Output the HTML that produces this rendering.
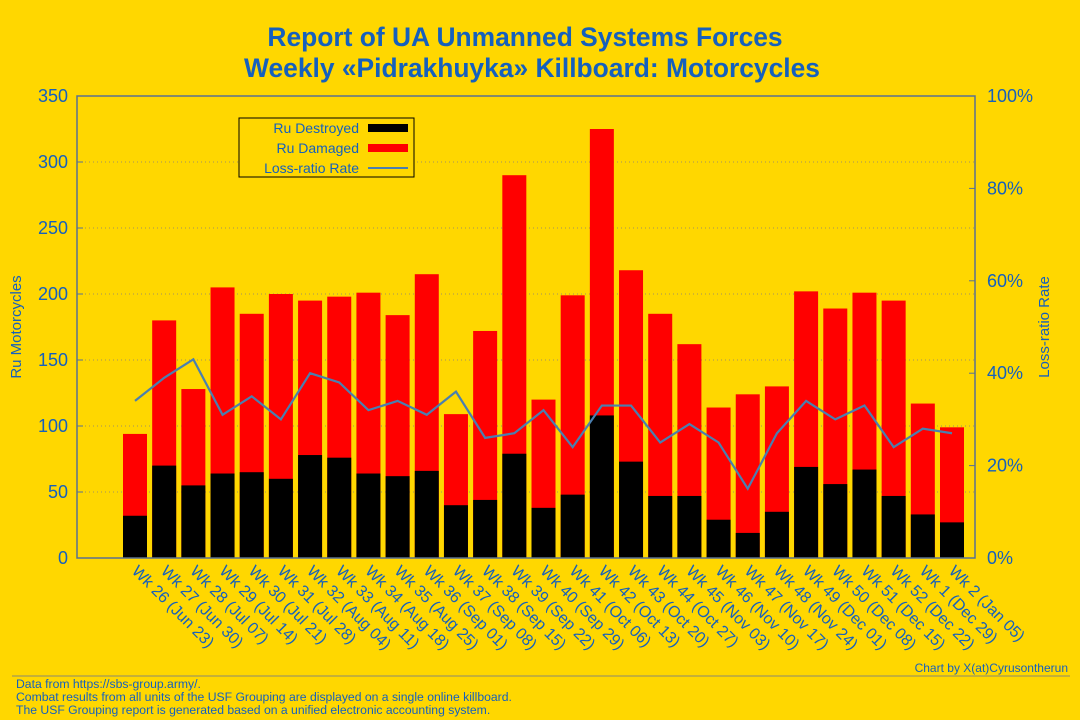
<!DOCTYPE html>
<html><head><meta charset="utf-8"><style>
body{margin:0;background:#FFD700;}
svg{display:block;font-family:"Liberation Sans",sans-serif;}
</style></head><body>
<svg id="chart" width="1080" height="720">
<rect x="0" y="0" width="1080" height="720" fill="#FFD700"/>
<text x="525" y="46" text-anchor="middle" font-size="26.4" font-weight="bold" fill="#1560BD">Report of UA Unmanned Systems Forces</text>
<text x="532" y="77" text-anchor="middle" font-size="26.4" font-weight="bold" fill="#1560BD">Weekly «Pidrakhuyka» Killboard: Motorcycles</text>
<g id="grid"></g><g id="bars"></g><g id="line"></g><g id="axes"></g>
<text transform="translate(21,327) rotate(-90)" text-anchor="middle" font-size="15" fill="#1560BD">Ru Motorcycles</text>
<text transform="translate(1049,327) rotate(-90)" text-anchor="middle" font-size="15" fill="#1560BD">Loss-ratio Rate</text>
<g>
<rect x="239" y="118" width="175" height="59" fill="#FFD700" stroke="#000" stroke-width="1"/>
<text x="359" y="133" text-anchor="end" font-size="14" fill="#1560BD">Ru Destroyed</text>
<rect x="368" y="124" width="40" height="8" fill="#000"/>
<text x="359" y="153" text-anchor="end" font-size="14" fill="#1560BD">Ru Damaged</text>
<rect x="368" y="144" width="40" height="8" fill="#FF0000"/>
<text x="359" y="173" text-anchor="end" font-size="14" fill="#1560BD">Loss-ratio Rate</text>
<line x1="368" y1="168" x2="408" y2="168" stroke="#4a7fb0" stroke-width="2"/>
</g>
<text x="1068" y="672" text-anchor="end" font-size="12" fill="#1560BD">Chart by X(at)Cyrusontherun</text>
<line x1="12" y1="676" x2="1070" y2="676" stroke="#8a8a70" stroke-width="1"/>
<text x="16" y="688" font-size="12.2" fill="#1560BD">Data from https://sbs-group.army/.</text>
<text x="16" y="701" font-size="12.2" fill="#1560BD">Combat results from all units of the USF Grouping are displayed on a single online killboard.</text>
<text x="16" y="714" font-size="12.2" fill="#1560BD">The USF Grouping report is generated based on a unified electronic accounting system.</text>
</svg>
<script>
const categories=["Wk 26 (Jun 23)","Wk 27 (Jun 30)","Wk 28 (Jul 07)","Wk 29 (Jul 14)","Wk 30 (Jul 21)","Wk 31 (Jul 28)","Wk 32 (Aug 04)","Wk 33 (Aug 11)","Wk 34 (Aug 18)","Wk 35 (Aug 25)","Wk 36 (Sep 01)","Wk 37 (Sep 08)","Wk 38 (Sep 15)","Wk 39 (Sep 22)","Wk 40 (Sep 29)","Wk 41 (Oct 06)","Wk 42 (Oct 13)","Wk 43 (Oct 20)","Wk 44 (Oct 27)","Wk 45 (Nov 03)","Wk 46 (Nov 10)","Wk 47 (Nov 17)","Wk 48 (Nov 24)","Wk 49 (Dec 01)","Wk 50 (Dec 08)","Wk 51 (Dec 15)","Wk 52 (Dec 22)","Wk 1 (Dec 29)","Wk 2 (Jan 05)"];
const destroyed=[32,70,55,64,65,60,78,76,64,62,66,40,44,79,38,48,108,73,47,47,29,19,35,69,56,67,47,33,27];
const totals=[94,180,128,205,185,200,195,198,201,184,215,109,172,290,120,199,325,218,185,162,114,124,130,202,189,201,195,117,99];
const rates=[34,39,43,31,35,30,40,38,32,34,31,36,26,27,32,24,33,33,25,29,25,15,27,34,30,33,24,28,27];
const yTicks=[0,50,100,150,200,250,300,350];
const y2Ticks=[0,20,40,60,80,100];
const NS="http://www.w3.org/2000/svg";
const L=77,R=975,T=96,B=558;
const x=i=>135+i*(952-135)/28;
const y=v=>B-(v/350)*(B-T);
const y2=p=>B-(p/100)*(B-T);
function mk(tag,attrs,parent,txt){const e=document.createElementNS(NS,tag);for(const k in attrs)e.setAttribute(k,attrs[k]);if(txt!==undefined)e.textContent=txt;document.getElementById(parent).appendChild(e);return e;}
yTicks.forEach(t=>{
 if(t>0&&t<350){const g=mk('line',{x1:L,x2:R,y1:y(t),y2:y(t),stroke:'#a09060','stroke-dasharray':'1,3','stroke-width':1},'grid');
 
 }
 const tl=mk('text',{x:L-9,y:y(t)+6,'text-anchor':'end','font-size':18,fill:'#1560BD'},'axes',t);
 
 
 mk('line',{x1:L,x2:L+6,y1:y(t),y2:y(t),stroke:'#5a7090'},'axes');
});
y2Ticks.forEach(t=>{
 const tl=mk('text',{x:R+12,y:y2(t)+6,'font-size':18,fill:'#1560BD'},'axes',t+'%');
 
 
 mk('line',{x1:R-6,x2:R,y1:y2(t),y2:y2(t),stroke:'#5a7090'},'axes');
});
const ax=mk('rect',{x:L,y:T,width:R-L,height:B-T,fill:'none',stroke:'#5a7090','stroke-width':1.5},'axes');


const bw=24;
categories.forEach((c,i)=>{
 const r=mk('rect',{x:x(i)-bw/2,y:y(totals[i]),width:bw,height:B-y(totals[i]),fill:'#FF0000'},'bars');
 
 
 const b=mk('rect',{x:x(i)-bw/2,y:y(destroyed[i]),width:bw,height:B-y(destroyed[i]),fill:'#000'},'bars');
 
 
 const t=mk('text',{transform:`translate(${x(i)-4},${B+14}) rotate(45)`,'font-size':16,fill:'#1560BD'},'axes',c);
 
 
});
const pts=rates.map((p,i)=>x(i)+','+y2(p)).join(' ');
const pl=mk('polyline',{points:pts,fill:'none',stroke:'#4a7fb0','stroke-width':2.2},'line');


</script>
</body></html>
